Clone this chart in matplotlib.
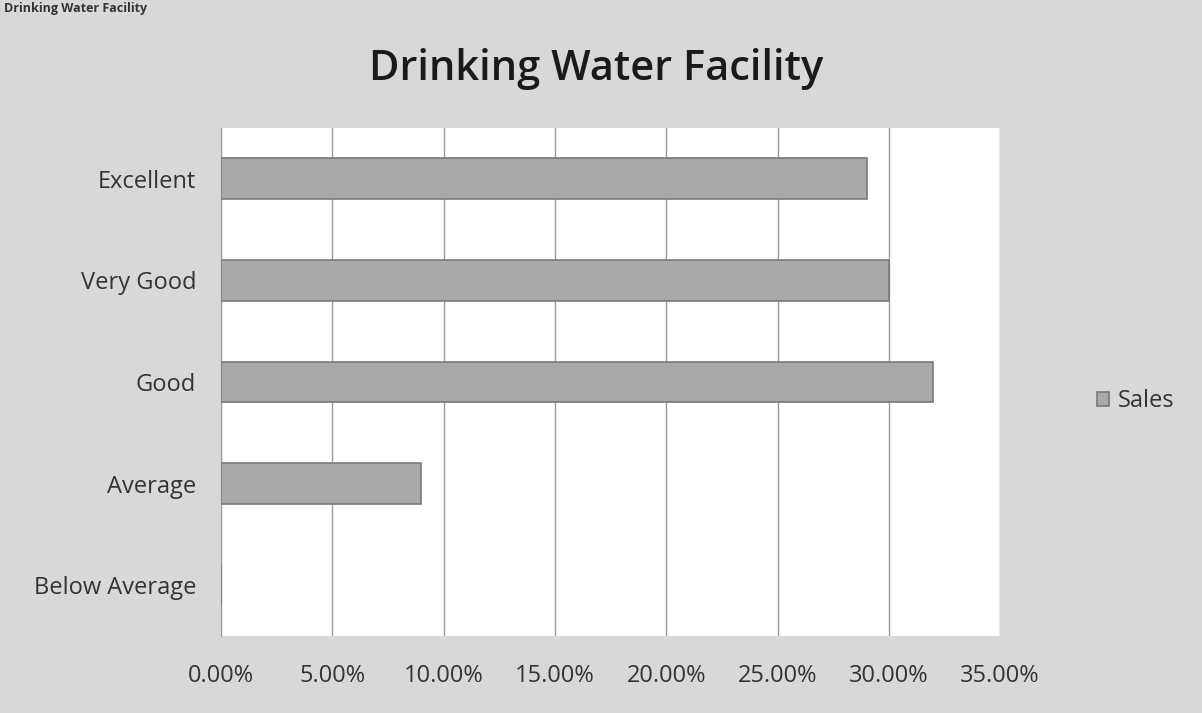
import numpy as np
import matplotlib.pyplot as plt
from matplotlib.ticker import FuncFormatter

# Data
categories = ["Below Average", "Average", "Good", "Very Good", "Excellent"]
sales = [0.0, 0.09, 0.32, 0.30, 0.29]
xticks = np.arange(0, 0.351, 0.05)

plt.rcParams['font.family'] = ['Open Sans', 'DejaVu Sans']

fig = plt.figure(figsize=(12.02, 7.13), dpi=100, facecolor="#d8d8d8")
ax = fig.add_axes([0.184, 0.108, 0.648, 0.7125])
ax.set_facecolor("white")

y = np.arange(len(categories))
bars = ax.barh(y, sales, height=0.4, color="#a9a9a9", edgecolor="#7a7a7a",
               linewidth=1.2, label="Sales", zorder=3)

ax.set_xlim(0, 0.35)
ax.set_ylim(-0.5, len(categories) - 0.5)
ax.set_xticks(xticks)
ax.xaxis.set_major_formatter(FuncFormatter(lambda v, p: f"{v * 100:.2f}%"))
ax.set_yticks(y)
ax.set_yticklabels(categories)
ax.tick_params(axis="both", length=0, labelsize=17, colors="#333333")
ax.tick_params(axis="y", pad=18)
ax.tick_params(axis="x", pad=20)
ax.grid(axis="x", color="#9a9a9a", linewidth=1, zorder=0)

for side in ["top", "right", "bottom"]:
    ax.spines[side].set_visible(False)
ax.spines["left"].set_color("#9a9a9a")

fig.text(0.496, 0.903, "Drinking Water Facility", ha="center", va="center",
         fontsize=30, fontweight="semibold", color="#1a1a1a")
fig.text(0.003, 0.997, "Drinking Water Facility", ha="left", va="top",
         fontsize=9, fontweight="bold", color="#333333")

fig.legend(handles=[bars], labels=["Sales"], loc="center left",
           bbox_to_anchor=(0.895, 0.437), frameon=False, fontsize=17,
           handlelength=0.5, handleheight=0.5, handletextpad=0.4,
           labelcolor="#333333")

fig.savefig("out.png", dpi=100, facecolor=fig.get_facecolor())
